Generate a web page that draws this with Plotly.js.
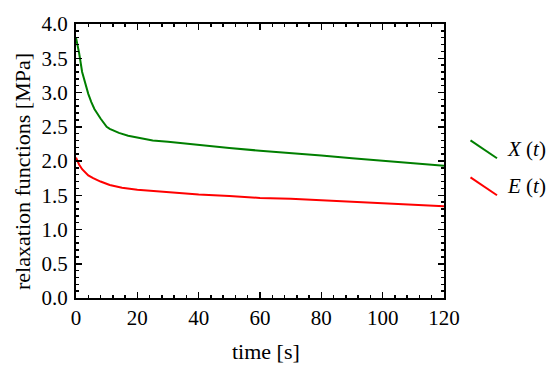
<!DOCTYPE html>
<html><head><meta charset="utf-8">
<script src="https://cdn.plot.ly/plotly-3.0.1.min.js"></script>
<style>html,body{margin:0;padding:0;background:#fff}#c{width:554px;height:376px}</style>
</head><body><div id="c"></div>
<script>
const timeX = [0,1,2,3,4,5,6,8,10,11,12,14,17,20,25,30,40,50,60,70,80,90,100,110,120];
const valX  = [3.80,3.58,3.30,3.12,2.98,2.86,2.76,2.62,2.50,2.47,2.45,2.41,2.37,2.34,2.30,2.28,2.23,2.19,2.15,2.12,2.08,2.04,2.00,1.97,1.93];
const timeE = [0,1,2,3,4,5.6,8,11,15,20,30,40,50,60,70,80,90,100,110,120];
const valE  = [2.05,1.95,1.88,1.83,1.79,1.75,1.70,1.65,1.61,1.58,1.54,1.51,1.49,1.46,1.45,1.43,1.41,1.39,1.37,1.34];
const xTicks = [0,20,40,60,80,100,120];
const yTicks = [0,0.5,1,1.5,2,2.5,3,3.5,4];
const yTickText = ["0.0","0.5","1.0","1.5","2.0","2.5","3.0","3.5","4.0"];
const seriesNames = ["<i>X</i> (<i>t</i>)","<i>E</i> (<i>t</i>)"];
const colors = ["#007f00","#ff0000"];

const traces = [
  {x: timeX, y: valX, mode:'lines', line:{color:colors[0], width:2}, name:seriesNames[0], showlegend:false},
  {x: timeE, y: valE, mode:'lines', line:{color:colors[1], width:2}, name:seriesNames[1], showlegend:false}
];
const fam = 'Liberation Serif';
const tickFont = {family:fam, size:21, color:'#000'};
const titleFont = {family:fam, size:22, color:'#000'};
const axisCommon = {showgrid:false, zeroline:false, showline:true, linecolor:'#000', linewidth:2,
  mirror:'ticks', ticks:'inside', ticklen:6, tickwidth:1.5, tickcolor:'#000', tickfont:tickFont};
const layout = {
  width:554, height:376, margin:{l:76, r:110, t:24, b:78},
  paper_bgcolor:'#fff', plot_bgcolor:'#fff', font:tickFont, showlegend:false,
  xaxis: Object.assign({}, axisCommon, {range:[0,120], tickvals:xTicks, ticktext:xTicks.map(String),
    ticklabelstandoff:0,
    minor:{dtick:4, ticks:'inside', ticklen:3, tickwidth:1.5, tickcolor:'#000'}}),
  yaxis: Object.assign({}, axisCommon, {range:[0,4], tickvals:yTicks, ticktext:yTickText,
    ticklabelstandoff:2,
    minor:{dtick:0.1, ticks:'inside', ticklen:3, tickwidth:1.5, tickcolor:'#000'}}),
  shapes:[
    {type:'line', xref:'paper', yref:'paper', x0:1.072, y0:0.575, x1:1.144, y1:0.51, line:{color:colors[0], width:2}},
    {type:'line', xref:'paper', yref:'paper', x0:1.072, y0:0.44, x1:1.144, y1:0.375, line:{color:colors[1], width:2}}
  ],
  annotations:[
    {xref:'paper', yref:'paper', x:1.165, y:0.543, xanchor:'left', yanchor:'middle', showarrow:false, text:seriesNames[0], font:tickFont},
    {xref:'paper', yref:'paper', x:1.165, y:0.41, xanchor:'left', yanchor:'middle', showarrow:false, text:seriesNames[1], font:tickFont},
    {xref:'paper', yref:'paper', x:0.516, y:-0.197, xanchor:'center', yanchor:'middle', showarrow:false, text:'time [s]', font:titleFont},
    {xref:'paper', yref:'paper', x:-0.144, y:0.46, xanchor:'center', yanchor:'middle', showarrow:false, textangle:-90, text:'relaxation functions [MPa]', font:titleFont}
  ]
};
Plotly.newPlot('c', traces, layout, {staticPlot:true, displayModeBar:false});
</script></body></html>
